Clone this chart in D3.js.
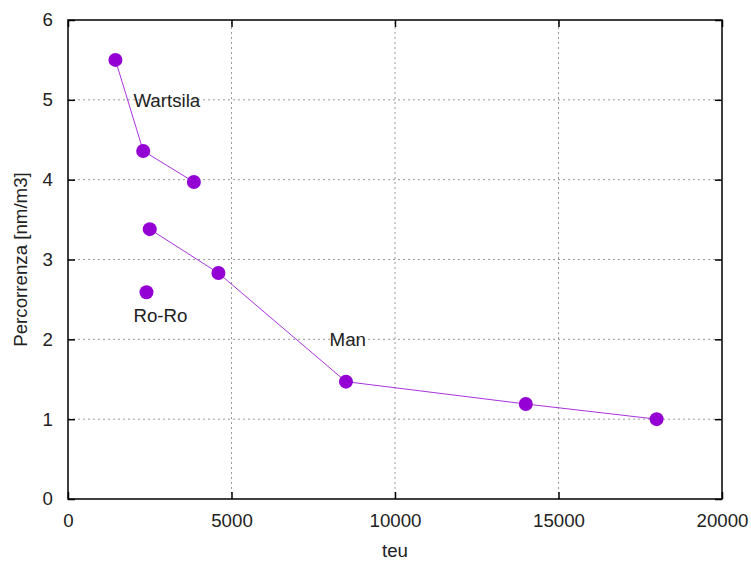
<!DOCTYPE html>
<html>
<head>
<meta charset="utf-8">
<script src="https://cdn.jsdelivr.net/npm/d3@7"></script>
<style>
	body { margin: 0; background: #fff; }
	text { font-family: "Liberation Sans", Arial, sans-serif; fill: #222; }
</style>
</head>
<body>
<svg id="chart" width="751" height="562"></svg>
<script>
// values
const wartsilaTeu = [1450, 2300, 3850];
const wartsilaVal = [5.5, 4.36, 3.97];
const manTeu = [2500, 4600, 8500, 14000, 18000];
const manVal = [3.38, 2.83, 1.47, 1.19, 1.0];
const roroTeu = [2400];
const roroVal = [2.59];
const xTicks = [0, 5000, 10000, 15000, 20000];
const yTicks = [0, 1, 2, 3, 4, 5, 6];
const labels = [
	{ text: 'Wartsila', teu: 2000, val: 4.91 },
	{ text: 'Ro-Ro', teu: 2000, val: 2.22 },
	{ text: 'Man', teu: 8000, val: 1.92 }
];

const color = '#9400d3';
const fs = 18.7;
const margin = { top: 20, right: 29, bottom: 63, left: 68 };
const W = 751, H = 562;
const svg = d3.select('#chart');

const x = d3.scaleLinear().domain([0, 20000]).range([margin.left, W - margin.right]);
const y = d3.scaleLinear().domain([0, 6]).range([H - margin.bottom, margin.top]);

// grid
const grid = svg.append('g').attr('stroke', '#999').attr('stroke-dasharray', '2,3').attr('stroke-width', 1);
xTicks.slice(1, -1).forEach(t => {
	grid.append('line').attr('x1', x(t)).attr('x2', x(t)).attr('y1', y(0)).attr('y2', y(6));
});
yTicks.slice(1, -1).forEach(t => {
	grid.append('line').attr('x1', x(0)).attr('x2', x(20000)).attr('y1', y(t)).attr('y2', y(t));
});

// frame
svg.append('rect')
	.attr('x', x(0)).attr('y', y(6))
	.attr('width', x(20000) - x(0)).attr('height', y(0) - y(6))
	.attr('fill', 'none').attr('stroke', '#000').attr('stroke-width', 1.5);

// axes with inward ticks, mirrored
const fmt = d3.format('d');
const axB = svg.append('g').attr('transform', `translate(0,${y(0)})`)
	.call(d3.axisBottom(x).tickValues(xTicks).tickSize(-7).tickPadding(15).tickFormat(fmt));
const axT = svg.append('g').attr('transform', `translate(0,${y(6)})`)
	.call(d3.axisTop(x).tickValues(xTicks).tickSize(-7).tickFormat(''));
const axL = svg.append('g').attr('transform', `translate(${x(0)},0)`)
	.call(d3.axisLeft(y).tickValues(yTicks).tickSize(-7).tickPadding(15).tickFormat(fmt));
const axR = svg.append('g').attr('transform', `translate(${x(20000)},0)`)
	.call(d3.axisRight(y).tickValues(yTicks).tickSize(-7).tickFormat(''));
[axB, axT, axL, axR].forEach(a => {
	a.select('.domain').remove();
	a.selectAll('line').attr('stroke', '#000').attr('stroke-width', 1.5);
	a.selectAll('text').attr('font-size', fs).attr('font-family', '"Liberation Sans", Arial, sans-serif').attr('fill', '#222');
});

// axis titles
svg.append('text').attr('x', (x(0) + x(20000)) / 2).attr('y', 557)
	.attr('text-anchor', 'middle').attr('font-size', fs).text('teu');
svg.append('text').attr('transform', `translate(27,${(y(0) + y(6)) / 2}) rotate(-90)`)
	.attr('text-anchor', 'middle').attr('font-size', fs).text('Percorrenza [nm/m3]');

// series
const line = d3.line().x(d => x(d[0])).y(d => y(d[1]));
const series = [
	{ teu: wartsilaTeu, val: wartsilaVal, line: true },
	{ teu: manTeu, val: manVal, line: true },
	{ teu: roroTeu, val: roroVal, line: false }
];
series.forEach(s => {
	const pts = d3.zip(s.teu, s.val);
	if (s.line) {
		svg.append('path').datum(pts).attr('d', line)
			.attr('fill', 'none').attr('stroke', color).attr('stroke-width', 1).attr('stroke-opacity', 0.8);
	}
	svg.append('g').selectAll('circle').data(pts).enter().append('circle')
		.attr('cx', d => x(d[0])).attr('cy', d => y(d[1])).attr('r', 7)
		.attr('fill', color);
});

// labels
svg.append('g').selectAll('text').data(labels).enter().append('text')
	.attr('x', d => x(d.teu)).attr('y', d => y(d.val))
	.attr('font-size', fs).text(d => d.text);
</script>
</body>
</html>
